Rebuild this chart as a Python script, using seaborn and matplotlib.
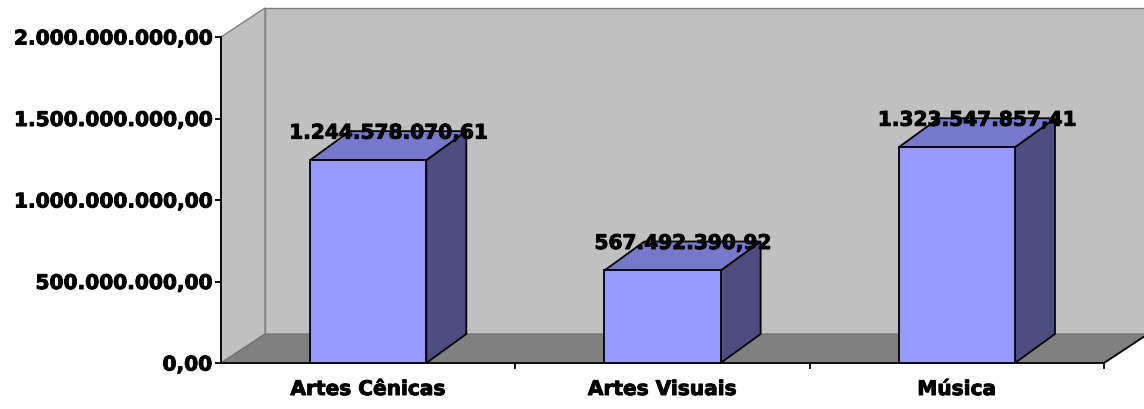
import matplotlib
matplotlib.use("Agg")
import matplotlib.pyplot as plt
from matplotlib.patches import Polygon
from matplotlib.lines import Line2D
from matplotlib.transforms import IdentityTransform
from matplotlib.ticker import FuncFormatter, FixedLocator
import matplotlib.patheffects as pe
import pandas as pd
import seaborn as sns

# Dados
categorias = ["Artes Cênicas", "Artes Visuais", "Música"]
valores = [1244578070.61, 567492390.92, 1323547857.41]
y_ticks = [0, 500_000_000, 1_000_000_000, 1_500_000_000, 2_000_000_000]


def brl(v, pos=None):
    s = f"{v:,.2f}"
    return s.replace(",", "X").replace(".", ",").replace("X", ".")


sns.set_theme(style="white")
plt.rcParams["font.family"] = ["DejaVu Sans"]
plt.rcParams["font.weight"] = "bold"

W, H, DPI = 1144, 410, 100
PT = 72 / DPI          # points per pixel
FS = 14.5              # font size in points
FRONT = "#9999ff"
SIDE = "#4d4d80"
TOP = "#7777cc"
WALL = "#c0c0c0"
FLOOR = "#808080"
EDGE_W = 1.3
HEAVY = [pe.withStroke(linewidth=0.7, foreground="black")]

fig = plt.figure(figsize=(W / DPI, H / DPI), dpi=DPI)
fig.patch.set_facecolor("white")
ax = fig.add_axes([221 / W, (H - 364) / H, (1104 - 221) / W, (364 - 38) / H])

df = pd.DataFrame({"categoria": categorias, "valor": valores})
sns.barplot(data=df, x="categoria", y="valor", ax=ax, color=FRONT,
            saturation=1, width=0.395, edgecolor="black",
            linewidth=EDGE_W, zorder=5)
ax.set_xlim(-0.5, len(categorias) - 0.5)
ax.set_ylim(y_ticks[0], y_ticks[-1])
ax.set_facecolor("none")
ax.set_xlabel("")
ax.set_ylabel("")

# depth of the 3D box (display pixels)
WALL_DX, WALL_DY = 44, 29
BAR_DX, BAR_DY = 40, 29


def disp(x, y, dx=0, dy=0):
    px, py = ax.transData.transform((x, y))
    return (px + dx, py + dy)


def poly(pts, face, edge="none", lw=0, z=1):
    p = Polygon(pts, closed=True, facecolor=face, edgecolor=edge,
                linewidth=lw, transform=IdentityTransform(), clip_on=False,
                zorder=z)
    ax.add_patch(p)
    return p


x0, x1 = ax.get_xlim()
y0, y1 = ax.get_ylim()

# back wall
poly([disp(x0, y0, WALL_DX, WALL_DY), disp(x1, y0, WALL_DX, WALL_DY),
      disp(x1, y1, WALL_DX, WALL_DY), disp(x0, y1, WALL_DX, WALL_DY)],
     WALL, "#808080", 1.0, z=0.5)
# left wall
poly([disp(x0, y0), disp(x0, y1), disp(x0, y1, WALL_DX, WALL_DY),
      disp(x0, y0, WALL_DX, WALL_DY)], WALL, "#808080", 1.0, z=0.6)
# floor
poly([disp(x0, y0), disp(x1, y0), disp(x1, y0, WALL_DX, WALL_DY),
      disp(x0, y0, WALL_DX, WALL_DY)], FLOOR, "#707070", 0.8, z=0.7)
# right edge of the floor
(ax_, ay_), (bx_, by_) = disp(x1, y0), disp(x1, y0, WALL_DX, WALL_DY)
ax.add_line(Line2D([ax_, bx_], [ay_, by_], color="black", lw=EDGE_W,
                   transform=IdentityTransform(), clip_on=False, zorder=3))

# sides and tops of the bars
for p in list(ax.patches):
    if not hasattr(p, "get_height") or p.get_height() <= 0:
        continue
    bx0 = p.get_x()
    bx1 = bx0 + p.get_width()
    h = p.get_height()
    poly([disp(bx1, 0), disp(bx1, h), disp(bx1, h, BAR_DX, BAR_DY),
          disp(bx1, 0, BAR_DX, BAR_DY)], SIDE, "black", EDGE_W, z=4)
    poly([disp(bx0, h), disp(bx1, h), disp(bx1, h, BAR_DX, BAR_DY),
          disp(bx0, h, BAR_DX, BAR_DY)], TOP, "black", EDGE_W, z=4)

# value labels
for i, v in enumerate(valores):
    t = ax.annotate(brl(v), xy=(i, v), xytext=(20 * PT, 27 * PT),
                    textcoords="offset points", ha="center", va="center",
                    fontsize=FS, fontweight="bold", color="black", zorder=6,
                    annotation_clip=False)
    t.set_path_effects(HEAVY)

# axes
for side in ("top", "right"):
    ax.spines[side].set_visible(False)
for side in ("left", "bottom"):
    ax.spines[side].set_visible(True)
    ax.spines[side].set_color("black")
    ax.spines[side].set_linewidth(EDGE_W)
    ax.spines[side].set_zorder(3)

ax.yaxis.set_major_locator(FixedLocator(y_ticks))
ax.yaxis.set_major_formatter(FuncFormatter(brl))
ax.tick_params(axis="y", which="major", left=True, direction="out",
               length=6 * PT, width=EDGE_W, color="black", pad=3 * PT,
               labelsize=FS, labelcolor="black")
ax.xaxis.set_minor_locator(FixedLocator([0.5, 1.5, 2.5]))
ax.tick_params(axis="x", which="major", bottom=True, length=0,
               pad=17 * PT, labelsize=FS, labelcolor="black")
ax.tick_params(axis="x", which="minor", bottom=True, direction="out",
               length=6 * PT, width=EDGE_W, color="black")
for lab in ax.get_xticklabels() + ax.get_yticklabels():
    lab.set_fontweight("bold")
    lab.set_path_effects(HEAVY)

fig.savefig("out.png", dpi=DPI, facecolor="white")
